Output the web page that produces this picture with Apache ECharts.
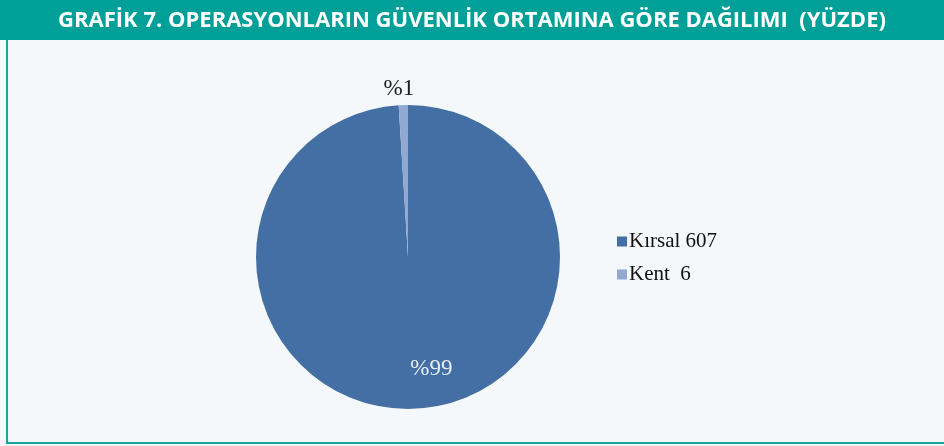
<!DOCTYPE html>
<html lang="tr">
<head>
    <meta charset="UTF-8">
    <title>Grafik 7</title>
    <script src="https://cdn.jsdelivr.net/npm/echarts@6/dist/echarts.min.js"></script>
    <style>
        html, body { margin: 0; padding: 0; background: #f4f8fa; }
        #frame {
            position: absolute; left: 6px; top: 40px; width: 940px; height: 402px;
            border-left: 2px solid #14a89d; border-bottom: 2px solid #14a89d;
        }
        #main { position: absolute; left: 0; top: 0; width: 944px; height: 446px; }
    </style>
</head>
<body>
<div id="frame"></div>
<div id="main"></div>
<script type="text/javascript">
    // veriler
    var titleText = 'GRAFİK 7. OPERASYONLARIN GÜVENLİK ORTAMINA GÖRE DAĞILIMI  (YÜZDE)';
    var categories = ['Kırsal 607', 'Kent  6'];
    var values = [607, 6];
    var percentLabels = ['%99', '%1'];
    var colors = ['#436fa4', '#91a8d0'];

    var myChart = echarts.init(document.getElementById('main'));

    var data = categories.map(function (name, i) {
        return {
            name: name,
            value: values[i],
            itemStyle: { color: colors[i] },
            label: i === 0 ? {
                position: 'inside',
                color: '#e8eef6'
            } : {
                position: 'outside',
                color: '#1a1a1a'
            }
        };
    });

    var option = {
        backgroundColor: 'transparent',
        animation: false,
        graphic: [{
            type: 'rect',
            left: 0, top: 0,
            shape: { width: 944, height: 40 },
            style: { fill: '#009f97' },
            z: 0
        }],
        title: {
            text: titleText,
            left: 'center',
            top: 5,
            textStyle: {
                color: '#ffffff',
                fontFamily: 'Open Sans',
                fontWeight: 'bold',
                fontSize: 22
            },
            z: 5
        },
        legend: {
            orient: 'vertical',
            left: 612,
            top: 226,
            itemWidth: 10,
            itemHeight: 10,
            itemGap: 12,
            icon: 'rect',
            data: categories,
            textStyle: {
                fontFamily: 'Liberation Serif',
                fontSize: 21,
                color: '#111111',
                padding: [0, 0, 0, -3]
            }
        },
        series: [{
            type: 'pie',
            center: [408, 257],
            radius: [0, 152],
            startAngle: 90,
            clockwise: true,
            avoidLabelOverlap: false,
            data: data,
            label: {
                show: true,
                fontFamily: 'Liberation Serif',
                fontSize: 23,
                formatter: function (p) {
                    return percentLabels[p.dataIndex];
                }
            },
            labelLine: { show: false, length: 4, length2: 0 },
            labelLayout: function (params) {
                if (params.dataIndex === 0) {
                    return { dx: 21, dy: 33 };
                }
                return { dx: 16, dy: -12 };
            },
            emphasis: { disabled: true }
        }]
    };
    myChart.setOption(option);
</script>
</body>
</html>
